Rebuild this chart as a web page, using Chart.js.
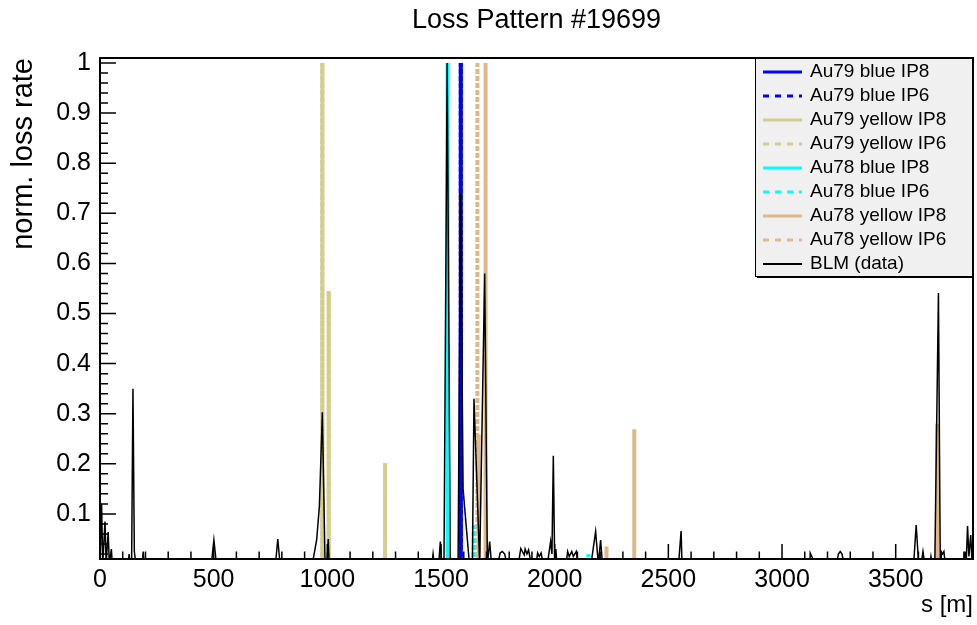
<!DOCTYPE html>
<html><head><meta charset="utf-8">
<script src="https://cdn.jsdelivr.net/npm/chart.js@4.4.1/dist/chart.umd.min.js"></script>
<style>html,body{margin:0;padding:0;background:#fff;}canvas{display:block;}</style>
</head><body>
<canvas id="c" width="977" height="625"></canvas>
<script>
// ---------- data ----------
const chartTitle = 'Loss Pattern #19699';
const xTitle = 's [m]';
const yTitle = 'norm. loss rate';
const xRange = [0, 3840];
const yRange = [0.01, 1.01];
const xTickValues = [0, 500, 1000, 1500, 2000, 2500, 3000, 3500];
const xTickLabels = ['0', '500', '1000', '1500', '2000', '2500', '3000', '3500'];
const yTickValues = [0.1, 0.2, 0.3, 0.4, 0.5, 0.6, 0.7, 0.8, 0.9, 1.0];
const yTickLabels = ['0.1', '0.2', '0.3', '0.4', '0.5', '0.6', '0.7', '0.8', '0.9', '1'];
const xMinorStep = 100;
const yMinorStep = 0.02;

const seriesNames = ['Au79 blue IP8', 'Au79 blue IP6', 'Au79 yellow IP8', 'Au79 yellow IP6',
  'Au78 blue IP8', 'Au78 blue IP6', 'Au78 yellow IP8', 'Au78 yellow IP6', 'BLM (data)'];

// model spikes: position s [m] and normalised rate
const au79BlueIP8S = [1587];
const au79BlueIP8V = [1.0];
const au79BlueIP6S = [1587];
const au79BlueIP6V = [1.0];
const au79YellowIP8S = [978, 1006, 1254];
const au79YellowIP8V = [1.0, 0.545, 0.201];
const au79YellowIP6S = [978, 1006, 1254];
const au79YellowIP6V = [1.0, 0.545, 0.201];
const au78BlueIP8S = [1529];
const au78BlueIP8V = [1.0];
const au78BlueIP6S = [1644, 2148];
const au78BlueIP6V = [0.078, 0.02];
const au78YellowIP8S = [1666, 1696, 2228, 2350, 3682];
const au78YellowIP8V = [0.258, 1.0, 0.035, 0.269, 0.28];
const au78YellowIP6S = [1660];
const au78YellowIP6V = [1.0];

// BLM measurement
const blmS = [0, 7, 12, 22, 27, 36, 41, 50, 54,
  124, 128, 132, 139, 145, 151, 158, 186, 190, 194,
  490, 501, 512, 772, 782, 792,
  925, 938, 953, 965, 978, 990, 998, 1004, 1008,
  1460, 1465, 1470, 1490, 1497, 1503, 1513, 1527, 1541,
  1575, 1586, 1597, 1625, 1638, 1645, 1670, 1692, 1704,
  1706, 1714, 1722, 1750, 1760, 1770, 1780, 1790,
  1840, 1851, 1866, 1870, 1878, 1885, 1897,
  1918, 1925, 1932, 1940, 1950,
  1968, 1982, 1988, 1994, 2000, 2005, 2010,
  2050, 2057, 2064, 2075, 2082, 2095, 2102,
  2160, 2180, 2192, 2202, 2210,
  2545, 2556, 2560,
  3123, 3124, 3146,
  3240, 3248, 3256, 3264, 3272,
  3579, 3590, 3601, 3612, 3620, 3628, 3650, 3655, 3660,
  3672, 3688, 3696, 3700, 3706, 3712, 3718,
  3800, 3805, 3810, 3812, 3816, 3822, 3830, 3836];
const blmV = [0, 0.12, 0, 0.085, 0, 0.064, 0, 0.03, 0,
  0, 0.02, 0, 0, 0.35, 0.025, 0, 0, 0.025, 0,
  0, 0.048, 0, 0, 0.05, 0,
  0, 0.01, 0.048, 0.115, 0.303, 0, 0, 0.05, 0,
  0, 0.02, 0, 0, 0.045, 0, 0, 1.0, 0,
  0, 0.74, 0.15, 0, 0, 0.33, 0, 0.58, 0,
  0, 0.045, 0, 0, 0.022, 0.025, 0.02, 0,
  0, 0.031, 0.018, 0.03, 0.02, 0.028, 0,
  0, 0.022, 0.015, 0.022, 0,
  0, 0.045, 0.02, 0.216, 0, 0.03, 0,
  0, 0.025, 0.015, 0.025, 0.015, 0.025, 0,
  0, 0.065, 0, 0.048, 0,
  0, 0.066, 0,
  0, 0.022, 0,
  0, 0.02, 0.025, 0.02, 0,
  0, 0.078, 0, 0, 0.025, 0, 0, 0.015, 0,
  0, 0.541, 0, 0.025, 0.02, 0.025, 0,
  0, 0.025, 0, 0, 0.076, 0.015, 0.058, 0];

// ---------- build datasets ----------
function spikes(S, V) {
  const out = [];
  for (let i = 0; i < S.length; i++) {
    out.push({x: S[i], y: 0}, {x: S[i], y: V[i]}, {x: S[i], y: null});
  }
  return out;
}
function points(S, V) { return S.map((s, i) => ({x: s, y: V[i]})); }

const blue = '#0000ff', yel79 = 'rgb(212,206,140)', cyan = '#00ffff', tan78 = 'rgb(222,184,135)';
const dash = [5, 2];
const specs = [
  {c: blue, d: false, data: spikes(au79BlueIP8S, au79BlueIP8V)},
  {c: blue, d: true, data: spikes(au79BlueIP6S, au79BlueIP6V)},
  {c: yel79, d: false, data: spikes(au79YellowIP8S, au79YellowIP8V)},
  {c: yel79, d: true, data: spikes(au79YellowIP6S, au79YellowIP6V)},
  {c: cyan, d: false, data: spikes(au78BlueIP8S, au78BlueIP8V)},
  {c: cyan, d: true, data: spikes(au78BlueIP6S, au78BlueIP6V)},
  {c: tan78, d: false, data: spikes(au78YellowIP8S, au78YellowIP8V)},
  {c: tan78, d: true, data: spikes(au78YellowIP6S, au78YellowIP6V)},
];
const datasets = specs.map((s, i) => ({
  label: seriesNames[i], data: s.data, borderColor: s.c, backgroundColor: s.c,
  borderWidth: 4, borderDash: s.d ? dash : [], pointRadius: 0, spanGaps: false,
  tension: 0, clip: 0, order: 20 - i, legendDash: s.d ? [6, 6] : [], legendWidth: 3
}));
datasets.push({label: seriesNames[8], data: points(blmS, blmV), borderColor: '#000',
  backgroundColor: '#000', borderWidth: 1.5, pointRadius: 0, tension: 0, clip: 0, order: 0,
  legendDash: [], legendWidth: 2});

// ---------- decorations (ROOT-style frame, inner ticks, legend) ----------
const FONT = '"Liberation Sans", Arial, sans-serif';
const rootFrame = {
  id: 'rootFrame',
  afterDatasetsDraw(chart) {
    const {ctx, chartArea: a} = chart;
    const xs = chart.scales.x, ys = chart.scales.y;
    ctx.save();
    ctx.strokeStyle = '#000';
    ctx.lineWidth = 1.5;
    ctx.beginPath();
    for (let k = 0; k * xMinorStep <= xRange[1]; k++) {
      const v = k * xMinorStep;
      const px = xs.getPixelForValue(v);
      const len = (v % 500 === 0) ? 15 : 7.5;
      ctx.moveTo(px, a.bottom); ctx.lineTo(px, a.bottom - len);
    }
    for (let k = 1; k * yMinorStep <= yRange[1] + 1e-9; k++) {
      const v = k * yMinorStep;
      if (v < yRange[0]) continue;
      const py = ys.getPixelForValue(v);
      const len = (k % 5 === 0) ? 16 : 8;
      ctx.moveTo(a.left, py); ctx.lineTo(a.left + len, py);
    }
    ctx.stroke();
    ctx.lineWidth = 2;
    ctx.strokeRect(a.left, a.top, a.right - a.left, a.bottom - a.top);

    // legend
    const lw = 218, lh = 219;
    const lx = a.right - lw, ly = a.top;
    ctx.fillStyle = '#f0f0f0';
    ctx.fillRect(lx, ly, lw, lh);
    ctx.lineWidth = 1;
    ctx.strokeStyle = '#000';
    ctx.strokeRect(lx + 0.5, ly + 0.5, lw - 1, lh - 1);
    ctx.beginPath();
    ctx.moveTo(lx + 2, ly + lh + 0.5); ctx.lineTo(lx + lw + 0.5, ly + lh + 0.5);
    ctx.lineTo(lx + lw + 0.5, ly + 2);
    ctx.stroke();
    ctx.font = '19px ' + FONT;
    ctx.textBaseline = 'middle';
    ctx.textAlign = 'left';
    chart.data.datasets.forEach((ds, i) => {
      const ry = ly + 14 + 24 * i;
      ctx.save();
      ctx.strokeStyle = ds.borderColor;
      ctx.lineWidth = ds.legendWidth;
      ctx.setLineDash(ds.legendDash);
      ctx.beginPath();
      ctx.moveTo(lx + 8, ry); ctx.lineTo(lx + 47, ry);
      ctx.stroke();
      ctx.restore();
      ctx.fillStyle = '#000';
      ctx.fillText(ds.label, lx + 55, ry);
    });
    ctx.restore();
  }
};

Chart.defaults.font.family = FONT;
Chart.defaults.color = '#000';

new Chart(document.getElementById('c'), {
  type: 'line',
  data: {datasets},
  options: {
    responsive: false, animation: false, devicePixelRatio: 1,
    layout: {padding: {left: 0, right: 4, top: 0, bottom: 0}},
    plugins: {
      legend: {display: false}, tooltip: {enabled: false},
      title: {display: true, text: chartTitle, fullSize: false, color: '#000',
        font: {size: 27, weight: 'normal', family: FONT}, padding: {top: 4, bottom: 21.6}}
    },
    scales: {
      x: {
        type: 'linear', position: 'bottom', min: xRange[0], max: xRange[1],
        grid: {display: false, drawTicks: false}, border: {display: false},
        afterBuildTicks: s => { s.ticks = xTickValues.map(v => ({value: v})); },
        afterFit: s => { s.height = 66; },
        ticks: {autoSkip: false, maxRotation: 0, padding: 6, color: '#000',
          font: {size: 25, family: FONT},
          callback: (v) => xTickLabels[xTickValues.indexOf(v)]},
        title: {display: true, text: xTitle, align: 'end', color: '#000',
          font: {size: 24, family: FONT}, padding: {top: 0, bottom: 5}}
      },
      y: {
        type: 'linear', position: 'left', min: yRange[0], max: yRange[1],
        grid: {display: false, drawTicks: false}, border: {display: false},
        afterBuildTicks: s => { s.ticks = yTickValues.map(v => ({value: v})); },
        afterFit: s => { s.width = 100; },
        ticks: {autoSkip: false, padding: 9, color: '#000',
          font: {size: 25, family: FONT},
          callback: (v) => yTickLabels[yTickValues.findIndex(t => Math.abs(t - v) < 1e-9)]},
        title: {display: true, text: yTitle, align: 'end', color: '#000',
          font: {size: 29, family: FONT}, padding: {top: 6.6, bottom: 0}}
      }
    }
  },
  plugins: [rootFrame]
});
</script>
</body></html>
